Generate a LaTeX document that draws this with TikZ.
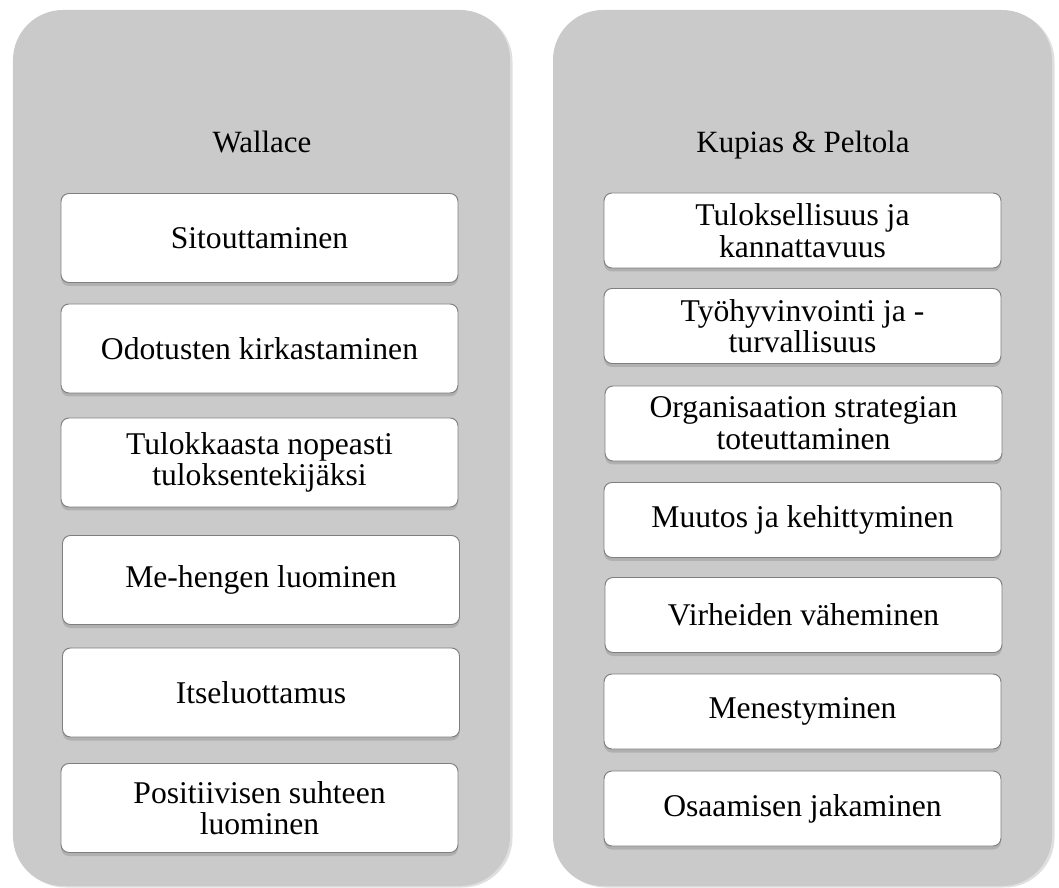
\documentclass[tikz,border=0pt]{standalone}
\usepackage{fontspec}
\setmainfont{Liberation Serif}
\usetikzlibrary{positioning,shadows}
\definecolor{panelgray}{HTML}{CACACA}
\definecolor{edgegray}{HTML}{7F7F7F}

\begin{document}
\begin{tikzpicture}[
    panel/.style={fill=panelgray, draw=none, rounded corners=1.0cm,
        drop shadow={shadow xshift=0.05cm, shadow yshift=-0.03cm, opacity=0.25}},
    head/.style={font=\fontsize{17.6}{20}\selectfont, anchor=base},
    item/.style={draw=edgegray, line width=0.55pt, fill=white, rounded corners=0.16cm,
        minimum width=7.94cm, align=center, inner sep=0pt,
        font=\fontsize{18}{18}\selectfont,
        drop shadow={shadow xshift=0cm, shadow yshift=-0.07cm, opacity=0.35}},
    tall/.style={item, minimum height=1.78cm},
    short/.style={item, minimum height=1.5cm},
]
    \useasboundingbox (0,0) rectangle (21.18,-17.76);

    % --- Panels ---
    \path[panel] (0.26,-0.2) rectangle (10.2,-17.72);
    \path[panel] (11.06,-0.2) rectangle (21.04,-17.72);

    % --- Wallace column ---
    \node[head] (wallace) at (5.24,-3.06) {Wallace};
    \node[tall] (sit) at (5.19,-4.76) {Sitouttaminen};
    \node[tall] (odo) at (5.19,-6.97) {Odotusten kirkastaminen};
    \node[tall] (tul) at (5.19,-9.25) {Tulokkaasta nopeasti\\tuloksentekijäksi};
    \node[tall] (me) at (5.22,-11.6) {Me-hengen luominen};
    \node[tall] (its) at (5.22,-13.85) {Itseluottamus};
    \node[tall] (pos) at (5.19,-16.16) {Positiivisen suhteen\\luominen};

    % --- Kupias & Peltola column ---
    \node[head] (kupias) at (16.06,-3.06) {Kupias \& Peltola};
    \node[short] (tuls) at (16.05,-4.61) {Tuloksellisuus ja\\kannattavuus};
    \node[short] (tyo) at (16.05,-6.52) {Työhyvinvointi ja -\\turvallisuus};
    \node[short] (org) at (16.07,-8.47) {Organisaation strategian\\toteuttaminen};
    \node[short] (muu) at (16.05,-10.4) {Muutos ja kehittyminen};
    \node[short] (vir) at (16.07,-12.3) {Virheiden väheminen};
    \node[short] (men) at (16.05,-14.23) {Menestyminen};
    \node[short] (osa) at (16.05,-16.17) {Osaamisen jakaminen};

\end{tikzpicture}
\end{document}
